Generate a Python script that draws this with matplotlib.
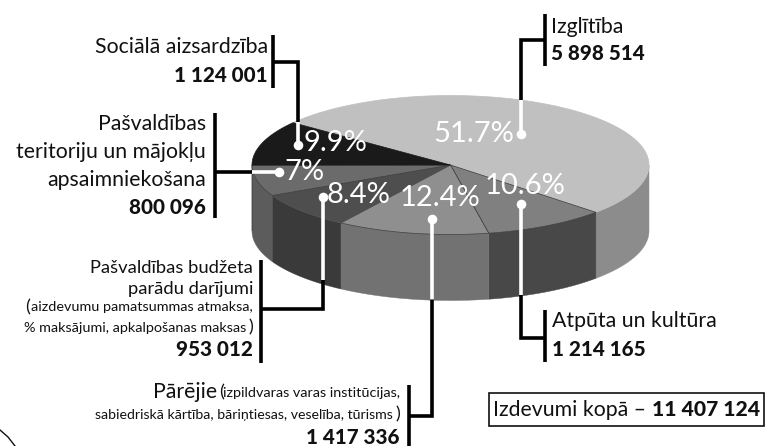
import numpy as np
import matplotlib
matplotlib.use("Agg")
import matplotlib.pyplot as plt
from matplotlib.patches import Polygon, Rectangle

plt.rcParams['font.family'] = ['Lato', 'Open Sans', 'DejaVu Sans']

# Slices, clockwise from the back left edge
categories = ['Izglītība', 'Atpūta un kultūra', 'Pārējie',
              'Pašvaldības budžeta parādu darījumi',
              'Pašvaldības teritoriju un mājokļu apsaimniekošana',
              'Sociālā aizsardzība']
amounts = [5898514, 1214165, 1417336, 953012, 800096, 1124001]
pct_labels = ['51.7%', '10.6%', '12.4%', '8.4%', '7%', '9.9%']
# shares as the slices are actually drawn in the picture, they differ a bit from the amounts
drawn_shares = [51.5, 10.0, 12.4, 8.45, 7.2, 10.45]
top_colors = ['#c0c0c0', '#808080', '#8f8f8f', '#4e4e4e', '#6b6b6b', '#1a1a1a']
side_colors = ['#8c8c8c', '#484848', '#727272', '#3a3a3a', '#5c5c5c', '#1a1a1a']
total_label = '11 407 124'

CX, CY = 450.5, 165
RX, RY = 198.5, 69.5
DEPTH = 66
START = 142.5


def ell(t, dy=0):
    t = np.radians(t)
    return np.column_stack([CX + RX * np.cos(t), CY - RY * np.sin(t) + dy])


def leader(xs, ys, color='black', lw=2.6):
    ax.plot(xs, ys, color=color, lw=lw, solid_capstyle='butt', solid_joinstyle='miter', zorder=5)


fig = plt.figure(figsize=(7.67, 4.46), dpi=100)
ax = fig.add_axes([0, 0, 1, 1])
ax.set_xlim(0, 767)
ax.set_ylim(446, 0)
ax.axis('off')

# pie
edges = START - np.cumsum([0] + drawn_shares) / sum(drawn_shares) * 360
for i in range(len(drawn_shares)):
    a0, a1 = edges[i], edges[i + 1]
    # wall: only the part of the rim facing front
    lo, hi = max(a1, -180), min(a0, 0)
    if hi > lo:
        t = np.linspace(hi, lo, 80)
        pts = np.vstack([ell(t), ell(t[::-1], DEPTH)])
        ax.add_patch(Polygon(pts, fc=side_colors[i], ec=side_colors[i], lw=0.3, zorder=1))
for i in range(len(drawn_shares)):
    t = np.linspace(edges[i], edges[i + 1], 120)
    pts = np.vstack([[CX, CY], ell(t)])
    ax.add_patch(Polygon(pts, fc=top_colors[i], ec='#3a3a3a' if i in (1, 2, 4) else top_colors[i],
                         lw=0.5, zorder=2))

# white part of the leaders, the dot is on the last point
white_parts = [([521, 521], [100, 134]), ([298, 298], [122, 145]), ([252, 279], [172, 172]),
               ([323, 323], [280, 197]), ([432, 432], [299, 219]), ([521, 521], [295, 204])]
for xs, ys in white_parts:
    leader(xs, ys, color='white')
    ax.scatter(xs[1], ys[1], s=48, color='white', zorder=6, linewidths=0)

# black part of the leaders and the bars beside the labels
leader([545, 545], [14, 66])
leader([545, 521, 521], [40, 40, 100])
leader([273, 273], [35, 88])
leader([273, 298, 298], [62, 62, 122])
leader([215, 215], [113, 218])
leader([215, 252], [172, 172])
leader([261, 261], [260, 363])
leader([261, 323, 323], [309, 309, 280])
leader([409, 409], [385, 446])
leader([409, 432, 432], [416, 416, 300])
leader([545, 545], [310, 362])
leader([545, 521, 521], [338, 338, 295])

# percentages on the pie
pct_pos = [(474, 134), (525, 186), (440, 198), (359, 195), (304, 172), (335, 143)]
for s, (x, y) in zip(pct_labels, pct_pos):
    ax.text(x, y, s, color='white', fontsize=21, ha='center', va='center', zorder=7)

# labels
BIG, MID, SMALL = 15.3, 13.2, 10.4
NUM = 14.9


def lab(x, y, s, size=BIG, weight='normal', ha='right'):
    ax.text(x, y, s, fontsize=size, fontweight=weight, ha=ha, va='center', color='#111111', zorder=7)


lab(551, 27, 'Izglītība', ha='left')
lab(551, 54, '5 898 514', size=NUM, weight='black', ha='left')
lab(268, 47, 'Sociālā aizsardzība')
lab(268, 75, '1 124 001', size=NUM, weight='black')
lab(206, 124, 'Pašvaldības')
lab(206, 152, 'teritoriju un mājokļu')
lab(206, 180, 'apsaimniekošana')
lab(206, 207, '800 096', size=NUM, weight='black')
lab(253, 268, 'Pašvaldības budžeta', size=MID)
lab(253, 289, 'parādu darījumi', size=MID)
lab(30, 307, '(', size=MID)
lab(253, 307, 'aizdevumu pamatsummas atmaksa,', size=SMALL)
lab(246, 328, '% maksājumi, apkalpošanas maksas', size=SMALL)
lab(253, 327, ')', size=MID)
lab(253, 350, '953 012', size=NUM, weight='black')
lab(153, 392, 'Pārējie', ha='left')
lab(224, 392, '(', size=MID)
lab(400, 393, 'izpildvaras varas institūcijas,', size=SMALL)
lab(393, 415, 'sabiedriskā kārtība, bāriņtiesas, veselība, tūrisms', size=10.2)
lab(400, 414, ')', size=MID)
lab(400, 437, '1 417 336', size=NUM, weight='black')
lab(552, 321, 'Atpūta un kultūra', ha='left')
lab(552, 349, '1 214 165', size=NUM, weight='black', ha='left')

# total box
ax.add_patch(Rectangle((489, 393), 275, 33, fc='white', ec='#111111', lw=1.2, zorder=4))
lab(493, 410, 'Izdevumi kopā –', ha='left')
lab(760, 410, total_label, size=15.2, weight='black')

# edge of a shape cut off in the corner
ax.plot([0, 8, 15], [430, 437, 446], color='#111111', lw=1)

fig.savefig('out.png', dpi=100)
